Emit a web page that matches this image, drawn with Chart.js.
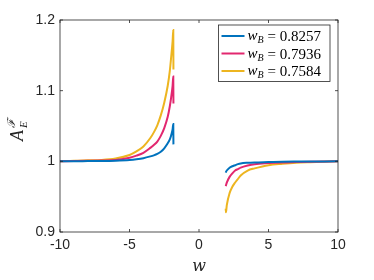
<!DOCTYPE html>
<html>
<head>
<meta charset="utf-8">
<script src="https://cdn.jsdelivr.net/npm/chart.js@4.4.1/dist/chart.umd.min.js"></script>
<style>
  html, body { margin: 0; padding: 0; background: #fff; }
  #wrap { width: 374px; height: 280px; }
</style>
</head>
<body>
<div id="wrap"><canvas id="c" width="374" height="280"></canvas></div>
<script>
const seriesLabels = ['0.8257', '0.7936', '0.7584'];
const seriesColors = ['#0072BD', '#E2276F', '#EDB520'];

const wLeft = [-10, -9, -8, -7, -6, -5, -4.5, -4, -3.5, -3.25, -3, -2.75, -2.5, -2.25, -2.1, -2.0, -1.9, -1.85, -1.84];
const blueLeft   = [1.000, 1.000, 1.0003, 1.0005, 1.001, 1.002, 1.003, 1.0045, 1.007, 1.0085, 1.0105, 1.0135, 1.0185, 1.0255, 1.031, 1.037, 1.045, 1.053, 1.024];
const pinkLeft   = [1.000, 1.0003, 1.0007, 1.0012, 1.002, 1.005, 1.008, 1.012, 1.019, 1.023, 1.028, 1.036, 1.047, 1.063, 1.078, 1.091, 1.107, 1.120, 1.082];
const yellowLeft = [1.000, 1.001, 1.0015, 1.002, 1.004, 1.009, 1.014, 1.021, 1.033, 1.041, 1.051, 1.065, 1.083, 1.107, 1.128, 1.148, 1.170, 1.186, 1.130];

const wRight = [1.92, 1.94, 2.0, 2.2, 2.4, 2.6, 2.8, 3.0, 3.5, 4, 5, 6, 7, 8, 10];
const blueRight   = [0.984, 0.985, 0.987, 0.991, 0.993, 0.9945, 0.996, 0.997, 0.998, 0.9985, 0.999, 0.9995, 0.9997, 0.9998, 1.000];
const pinkRight   = [0.965, 0.966, 0.970, 0.978, 0.983, 0.987, 0.989, 0.991, 0.994, 0.996, 0.9975, 0.9985, 0.999, 0.9995, 1.000];
const yellowRight = [0.933, 0.928, 0.938, 0.955, 0.964, 0.970, 0.975, 0.980, 0.987, 0.990, 0.9945, 0.9965, 0.998, 0.9988, 1.000];

const xTicks = [-10, -5, 0, 5, 10];
const yTicks = [0.9, 1.0, 1.1, 1.2];
const xTickLabels = ['-10', '-5', '0', '5', '10'];
const yTickLabels = ['0.9', '1', '1.1', '1.2'];

const axisColor = '#262626';

function branchPoints(left, right) {
  const pts = wLeft.map((w, i) => ({ x: w, y: left[i] }));
  pts.push({ x: 0, y: null });
  wRight.forEach((w, i) => pts.push({ x: w, y: right[i] }));
  return pts;
}

const allLeft = [blueLeft, pinkLeft, yellowLeft];
const allRight = [blueRight, pinkRight, yellowRight];

const datasets = seriesLabels.map((lab, i) => ({
  label: lab,
  data: branchPoints(allLeft[i], allRight[i]),
  borderColor: seriesColors[i],
  backgroundColor: seriesColors[i],
  borderWidth: 2,
  pointRadius: 0,
  cubicInterpolationMode: 'monotone',
  spanGaps: false,
  showLine: true
}));

// frame, inward ticks, labels and legend in the MATLAB look
const matlabFrame = {
  id: 'matlabFrame',
  afterDraw(chart) {
    const { ctx, chartArea: a, scales } = chart;
    const xs = scales.x, ys = scales.y;
    ctx.save();
    ctx.strokeStyle = axisColor;
    ctx.lineWidth = 0.8;
    ctx.strokeRect(a.left, a.top, a.right - a.left, a.bottom - a.top);

    ctx.beginPath();
    xTicks.forEach(v => {
      const px = xs.getPixelForValue(v);
      ctx.moveTo(px, a.bottom); ctx.lineTo(px, a.bottom - 3);
      ctx.moveTo(px, a.top); ctx.lineTo(px, a.top + 3);
    });
    yTicks.forEach(v => {
      const py = ys.getPixelForValue(v);
      ctx.moveTo(a.left, py); ctx.lineTo(a.left + 3, py);
      ctx.moveTo(a.right, py); ctx.lineTo(a.right - 3, py);
    });
    ctx.stroke();

    ctx.fillStyle = axisColor;
    ctx.font = '14px "Liberation Sans", Arial, sans-serif';
    ctx.textAlign = 'center';
    ctx.textBaseline = 'top';
    xTicks.forEach((v, i) => ctx.fillText(xTickLabels[i], xs.getPixelForValue(v), a.bottom + 6));
    ctx.textAlign = 'right';
    ctx.textBaseline = 'middle';
    yTicks.forEach((v, i) => ctx.fillText(yTickLabels[i], a.left - 5, ys.getPixelForValue(v)));

    // x label
    ctx.font = 'italic 16px "DejaVu Serif", "Liberation Serif", serif';
    ctx.textAlign = 'center';
    ctx.textBaseline = 'alphabetic';
    ctx.fillText('w', (a.left + a.right) / 2, 271);

    // y label A_E^F rotated
    ctx.save();
    ctx.translate(23, 127);
    ctx.rotate(-Math.PI / 2);
    ctx.textAlign = 'left';
    ctx.font = 'italic 18px "Liberation Serif", serif';
    ctx.fillText('A', -14, 0);
    ctx.font = 'italic 11px "Liberation Serif", serif';
    ctx.fillText('E', -1, 4);
    ctx.font = 'italic 11px "DejaVu Serif", serif';
    ctx.fillText('\u2131', -1, -8);
    ctx.restore();

    // legend
    const bx = 218.5, by = 25, bw = 111.5, bh = 56.5;
    ctx.fillStyle = '#fff';
    ctx.fillRect(bx, by, bw, bh);
    ctx.strokeStyle = '#262626';
    ctx.lineWidth = 0.8;
    ctx.strokeRect(bx, by, bw, bh);
    chart.data.datasets.forEach((ds, i) => {
      const ry = by + 11 + i * 17.5;
      ctx.strokeStyle = ds.borderColor;
      ctx.lineWidth = 2;
      ctx.beginPath();
      ctx.moveTo(bx + 3, ry); ctx.lineTo(bx + 26, ry);
      ctx.stroke();
      ctx.fillStyle = '#000';
      ctx.textAlign = 'left';
      ctx.textBaseline = 'alphabetic';
      let tx = bx + 29;
      ctx.font = 'italic 15px "Liberation Serif", serif';
      ctx.fillText('w', tx, ry + 4);
      tx += ctx.measureText('w').width;
      ctx.font = 'italic 10px "Liberation Serif", serif';
      ctx.fillText('B', tx, ry + 7);
      tx += ctx.measureText('B').width + 4;
      ctx.font = '15px "Liberation Serif", serif';
      ctx.fillText('= ' + ds.label, tx, ry + 5);
    });
    ctx.restore();
  }
};

new Chart(document.getElementById('c'), {
  type: 'line',
  data: { datasets },
  options: {
    responsive: false,
    animation: false,
    layout: { padding: { top: 20, right: 36, left: 0, bottom: 0 } },
    plugins: { legend: { display: false }, tooltip: { enabled: false } },
    scales: {
      x: {
        type: 'linear', min: -10, max: 10,
        grid: { display: false },
        border: { display: false },
        ticks: { display: false },
        afterFit(s) { s.height = 48; }
      },
      y: {
        type: 'linear', min: 0.9, max: 1.2,
        grid: { display: false },
        border: { display: false },
        ticks: { display: false },
        afterFit(s) { s.width = 60; }
      }
    }
  },
  plugins: [matlabFrame]
});
</script>
</body>
</html>
